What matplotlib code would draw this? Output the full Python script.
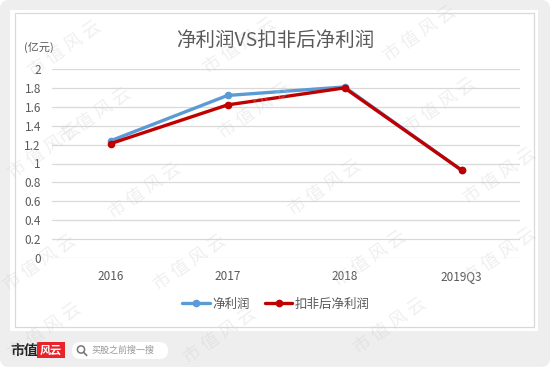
import matplotlib.pyplot as plt
from matplotlib.patches import FancyBboxPatch, Rectangle, Circle
import numpy as np

plt.rcParams['font.family'] = ['Noto Sans CJK SC', 'DejaVu Sans']

categories = ['2016', '2017', '2018', '2019Q3']
net_profit = [1.24, 1.72, 1.81, 0.93]
net_profit_deducted = [1.21, 1.62, 1.80, 0.93]
y_ticks = [0, 0.2, 0.4, 0.6, 0.8, 1, 1.2, 1.4, 1.6, 1.8, 2]
y_tick_labels = ['0', '0.2', '0.4', '0.6', '0.8', '1', '1.2', '1.4', '1.6', '1.8', '2']

W, H = 550, 367
fig = plt.figure(figsize=(W / 100, H / 100), dpi=100)
fig.patch.set_facecolor('white')

# background layer in pixel coords
bg = fig.add_axes([0, 0, 1, 1])
bg.set_xlim(0, W)
bg.set_ylim(H, 0)
bg.axis('off')
bg.add_patch(FancyBboxPatch((0, 0), W, H, boxstyle='round,pad=0,rounding_size=9',
                            fc='#eeeeee', ec='none'))
bg.add_patch(Rectangle((10, 10), 528, 321, fc='white', ec='none'))
bg.add_patch(Rectangle((15, 13), 519, 314, fc='none', ec='#d9d9d9', lw=0.9))

# footer
bg.text(10, 351, '市值', fontsize=10, fontweight='bold', color='#222222', va='center')
bg.add_patch(Rectangle((37, 342), 28, 16, fc='#e8232a', ec='none'))
bg.text(51, 350, '风云', fontsize=8, color='white', va='center', ha='center',
        fontstyle='italic', fontweight='bold')
bg.add_patch(FancyBboxPatch((72, 342), 96, 17, boxstyle='round,pad=0,rounding_size=8.5',
                            fc='white', ec='none'))
bg.add_patch(Circle((81, 349.5), 3.6, fc='none', ec='#777777', lw=1.1))
bg.plot([83.6, 86.5], [352.3, 355.2], color='#777777', lw=1.2)
bg.text(91, 350.5, '买股之前搜一搜', fontsize=6.5, color='#999999', va='center')

# title and unit
bg.text(275, 40, '净利润VS扣非后净利润', fontsize=14, color='#595959', ha='center', va='center')
bg.text(24, 47, '(亿元)', fontsize=8, color='#595959', va='center')

# main chart
left, right, top, bottom = 52, 520, 69, 258
ax = fig.add_axes([left / W, 1 - bottom / H, (right - left) / W, (bottom - top) / H])
ax.set_facecolor('none')
x = np.arange(len(categories))
ax.plot(x, net_profit, color='#5b9bd5', lw=2.4, marker='o', markersize=4.5,
        label='净利润', zorder=3, solid_capstyle='round')
ax.plot(x, net_profit_deducted, color='#c00000', lw=2.4, marker='o', markersize=4.5,
        label='扣非后净利润', zorder=4, solid_capstyle='round')
ax.set_xlim(-0.5, len(categories) - 0.5)
ax.set_ylim(0, 2)
ax.set_yticks(y_ticks)
ax.set_yticklabels(y_tick_labels)
ax.set_xticks(x)
ax.set_xticklabels(categories)
ax.tick_params(axis='both', length=0, labelsize=8.5, labelcolor='#595959')
ax.tick_params(axis='y', pad=8)
ax.tick_params(axis='x', pad=9)
ax.grid(axis='y', color='#d9d9d9', lw=0.9)
ax.set_axisbelow(True)
for s in ax.spines.values():
    s.set_visible(False)

ax.legend(loc='center', bbox_to_anchor=(276 / W, 1 - 304 / H), bbox_transform=fig.transFigure,
          ncol=2, frameon=False, fontsize=9, labelcolor='#595959', handlelength=2.2,
          handletextpad=0.2, columnspacing=1.2)

# watermarks
marks = [(65, 48), (240, 45), (420, 33), (45, 150), (145, 190), (325, 187), (500, 175),
         (95, 115), (255, 110), (440, 105), (40, 262), (190, 262), (370, 258), (500, 255),
         (45, 330), (220, 335), (390, 325)]
for mx, my in marks:
    fig.text(mx / W, 1 - my / H, '市 值 风 云', fontsize=13, color='#cccccc', alpha=0.3,
             rotation=35, ha='center', va='center', zorder=10)

fig.savefig('out.png', dpi=100)
